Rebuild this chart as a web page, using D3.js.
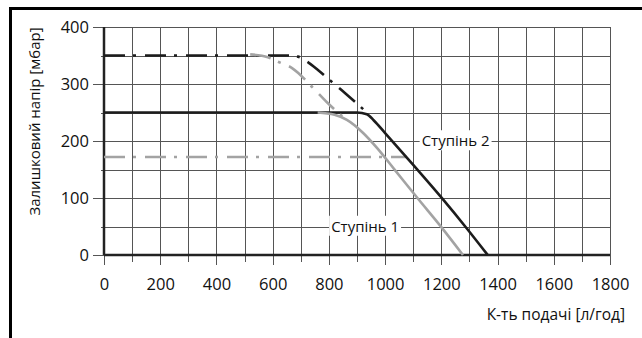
<!DOCTYPE html>
<html>
<head>
<meta charset="utf-8">
<script src="https://cdn.jsdelivr.net/npm/d3@7"></script>
<style>
  html, body { margin: 0; padding: 0; background: #fff; }
  svg { display: block; }
  text { font-family: "Open Sans", sans-serif; fill: #111; }
</style>
</head>
<body>
<div id="chart"></div>
<script>
// Values
const xMajorTicks = [0, 200, 400, 600, 800, 1000, 1200, 1400, 1600, 1800];
const xMinorTicks = [100, 300, 500, 700, 900, 1100, 1300, 1500, 1700];
const yMajorTicks = [0, 100, 200, 300, 400];
const yMinorTicks = [50, 150, 250, 350];

// Ступінь 2 (black)
const stage2X = [0, 900, 935, 960, 1000, 1100, 1200, 1290, 1365];
const stage2Y = [250, 250, 247, 236, 214, 158, 101, 47, 0];
const stage2MaxX = [0, 650, 690, 720, 760, 800, 860, 935];
const stage2MaxY = [350, 350, 348, 340, 325, 308, 283, 250];

// Ступінь 1 (grey)
const stage1X = [760, 820, 864, 920, 971, 1035, 1115, 1200, 1277];
const stage1Y = [250, 246, 237, 215, 188, 149, 100, 49, 0];
const stage1MaxX = [520, 583, 619, 669, 744, 793, 860];
const stage1MaxY = [352, 347, 339, 328, 293, 268, 238];
const stage1LowX = [0, 1077];
const stage1LowY = [172, 172];

const labels = [
  {text: "Ступінь 2", x: 1130, y: 200},
  {text: "Ступінь 1", x: 808, y: 50}
];

const width = 642, height = 338;
const margin = {top: 27, right: 32, bottom: 83, left: 104};
const w = width - margin.left - margin.right;
const h = height - margin.top - margin.bottom;

const svg = d3.select("#chart").append("svg")
    .attr("width", width)
    .attr("height", height);

// frame (top and left only)
svg.append("rect")
    .attr("x", 9).attr("y", 7)
    .attr("width", width - 9).attr("height", 3)
    .attr("fill", "#000");
svg.append("rect")
    .attr("x", 9).attr("y", 7)
    .attr("width", 3).attr("height", height - 7)
    .attr("fill", "#000");

const x = d3.scaleLinear().domain([0, 1800]).range([margin.left, margin.left + w]);
const y = d3.scaleLinear().domain([0, 400]).range([margin.top + h, margin.top]);

const gridColor = "#555";
const fmt = d3.format("d");

function styleGrid(g) {
  g.select(".domain").remove();
  g.selectAll("line").attr("stroke", gridColor).attr("shape-rendering", "crispEdges");
  g.selectAll("text").style("font-size", "16.5px").attr("fill", "#111");
}

// horizontal grid, minor then major (major ones stick out left with labels)
svg.append("g")
    .attr("transform", `translate(${margin.left + w},0)`)
    .call(d3.axisLeft(y).tickValues(yMinorTicks).tickSize(w + 3).tickSizeOuter(0).tickFormat(""))
    .call(styleGrid);

svg.append("g")
    .attr("transform", `translate(${margin.left + w},0)`)
    .call(d3.axisLeft(y).tickValues(yMajorTicks).tickSize(w + 11).tickSizeOuter(0).tickPadding(4).tickFormat(fmt))
    .call(styleGrid);

// vertical grid
svg.append("g")
    .attr("transform", `translate(0,${margin.top})`)
    .call(d3.axisBottom(x).tickValues(xMinorTicks).tickSize(h + 7).tickSizeOuter(0).tickFormat(""))
    .call(styleGrid);

svg.append("g")
    .attr("transform", `translate(0,${margin.top})`)
    .call(d3.axisBottom(x).tickValues(xMajorTicks).tickSize(h + 10).tickSizeOuter(0).tickPadding(13).tickFormat(fmt))
    .call(styleGrid);

// main axis lines
svg.append("line")
    .attr("x1", x(0)).attr("x2", x(0))
    .attr("y1", y(400)).attr("y2", y(0))
    .attr("stroke", "#222").attr("stroke-width", 2.5);
svg.append("line")
    .attr("x1", x(0)).attr("x2", x(1800))
    .attr("y1", y(0)).attr("y2", y(0))
    .attr("stroke", "#222").attr("stroke-width", 2.5);

const line = d3.line()
    .x(d => x(d[0]))
    .y(d => y(d[1]))
    .curve(d3.curveMonotoneX);

const zip = (xs, ys) => xs.map((v, i) => [v, ys[i]]);
const dashDot = "21,8,3,9";

function drawCurve(data, color, dash) {
  svg.append("path")
      .datum(data)
      .attr("fill", "none")
      .attr("stroke", color)
      .attr("stroke-width", 2.6)
      .attr("stroke-dasharray", dash)
      .attr("d", line);
}

const black = "#1c1c1c", grey = "#a3a3a3";

drawCurve(zip(stage1LowX, stage1LowY), grey, dashDot);
drawCurve(zip(stage2MaxX, stage2MaxY), black, dashDot);
drawCurve(zip(stage2X, stage2Y), black, null);
drawCurve(zip(stage1MaxX, stage1MaxY), grey, dashDot);
drawCurve(zip(stage1X, stage1Y), grey, null);

// curve labels with white box
labels.forEach(l => {
  const g = svg.append("g");
  const t = g.append("text")
      .attr("x", x(l.x))
      .attr("y", y(l.y))
      .attr("dy", "0.35em")
      .style("font-size", "15px")
      .text(l.text);
  const b = t.node().getBBox();
  g.insert("rect", "text")
      .attr("x", b.x - 2)
      .attr("y", b.y)
      .attr("width", b.width + 4)
      .attr("height", b.height)
      .attr("fill", "#fff");
});

// axis titles
svg.append("text")
    .attr("x", 625)
    .attr("y", 320)
    .attr("text-anchor", "end")
    .style("font-size", "15.5px")
    .text("К-ть подачі [л/год]");

svg.append("text")
    .attr("transform", `translate(40,${(25 + 218) / 2}) rotate(-90)`)
    .attr("text-anchor", "middle")
    .style("font-size", "15px")
    .text("Залишковий напір [мбар]");
</script>
</body>
</html>
